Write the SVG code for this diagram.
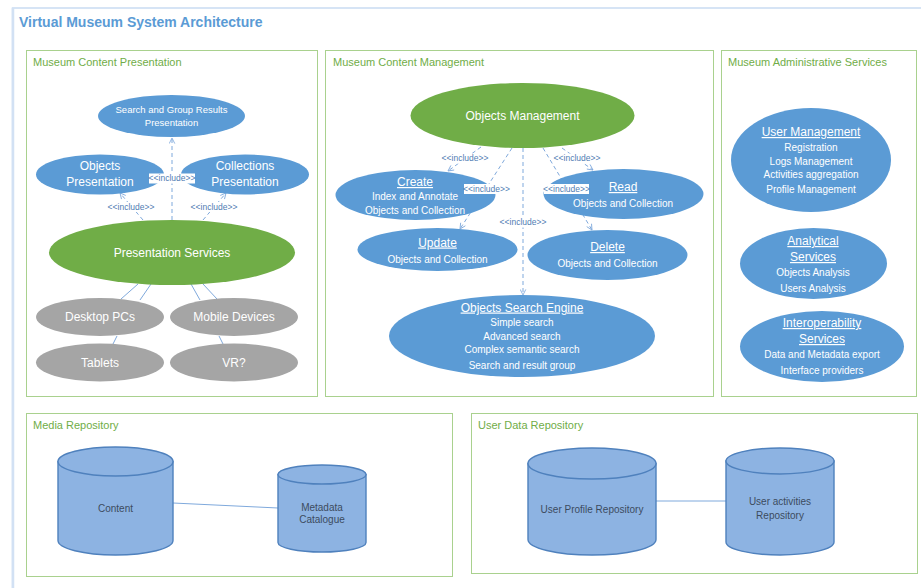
<svg xmlns="http://www.w3.org/2000/svg" width="921" height="588" viewBox="0 0 921 588">
  <style>
    text { font-family: "Liberation Sans", Arial, sans-serif; }
    .frame { fill: #ffffff; stroke: #c9dcf2; stroke-width: 1.5; }
    .frame-edge { stroke: #d2e1f4; stroke-width: 2.5; }
    .panel { fill: none; stroke: #a9d18e; stroke-width: 1; }
    .ptitle { font-size: 11px; fill: #70ad47; }
    .title { font-size: 14px; font-weight: bold; fill: #5b9bd5; }
    .blue { fill: #5b9bd5; }
    .green { fill: #70ad47; }
    .gray { fill: #a5a5a5; }
    .t12 { font-size: 12px; fill: #ffffff; text-anchor: middle; }
    .t10 { font-size: 10px; fill: #ffffff; text-anchor: middle; }
    .t9 { font-size: 9.5px; fill: #ffffff; text-anchor: middle; }
    .u { text-decoration: underline; }
    .inc { fill: none; stroke: #7fa9dc; stroke-width: 1; stroke-dasharray: 4 3; }
    .link { fill: none; stroke: #7fa9dc; stroke-width: 1; }
    .lblbg { fill: #ffffff; }
    .lbl { font-size: 8.5px; fill: #4f7db3; text-anchor: middle; }
    .db { fill: #8db3e2; stroke: #4f81bd; stroke-width: 1.4; }
    .dbt { font-size: 10px; fill: #3c4b5e; text-anchor: middle; }
  </style>
  <defs>
    <marker id="open" viewBox="0 0 10 10" refX="9" refY="5" markerWidth="7" markerHeight="7" orient="auto" markerUnits="userSpaceOnUse">
      <path d="M1,1 L9,5 L1,9" fill="none" stroke="#7fa9dc" stroke-width="1.2"/>
    </marker>
  </defs>

  <!-- outer frame and title -->
  <rect class="frame" x="12.5" y="8" width="920" height="600"/>
  <line class="frame-edge" x1="13" y1="8" x2="13" y2="588"/>
  <text class="title" x="19" y="27">Virtual Museum System Architecture</text>

  <!-- panels -->
  <g id="panels">
    <rect class="panel" x="26.5" y="50.5" width="291" height="346"/>
    <text class="ptitle" x="33" y="65.5">Museum Content Presentation</text>
    <rect class="panel" x="325.5" y="50.5" width="388" height="346"/>
    <text class="ptitle" x="333" y="65.5">Museum Content Management</text>
    <rect class="panel" x="721.5" y="50.5" width="195" height="346"/>
    <text class="ptitle" x="728" y="65.5">Museum Administrative Services</text>
    <rect class="panel" x="26.5" y="413.5" width="426" height="163"/>
    <text class="ptitle" x="33" y="429">Media Repository</text>
    <rect class="panel" x="471.5" y="413.5" width="446" height="160"/>
    <text class="ptitle" x="478" y="429">User Data Repository</text>
  </g>

  <!-- connectors -->
  <g id="connectors">
    <!-- presentation includes -->
    <line class="inc" x1="172" y1="220" x2="172" y2="138" marker-end="url(#open)"/>
    <line class="inc" x1="143" y1="220" x2="120" y2="193" marker-end="url(#open)"/>
    <line class="inc" x1="203" y1="220" x2="226" y2="193" marker-end="url(#open)"/>
    <!-- presentation devices -->
    <line class="link" x1="138" y1="284" x2="121" y2="299"/>
    <line class="link" x1="151" y1="284" x2="140" y2="300"/>
    <line class="link" x1="191" y1="284" x2="200" y2="300"/>
    <line class="link" x1="203" y1="284" x2="217" y2="299"/>
    <line class="link" x1="117" y1="336" x2="113" y2="344"/>
    <line class="link" x1="219" y1="336" x2="223" y2="344"/>
    <!-- management includes -->
    <line class="inc" x1="481" y1="147" x2="448" y2="171" marker-end="url(#open)"/>
    <line class="inc" x1="512" y1="148" x2="460" y2="229" marker-end="url(#open)"/>
    <line class="inc" x1="523" y1="148" x2="523" y2="295" marker-end="url(#open)"/>
    <line class="inc" x1="543" y1="148" x2="592" y2="230" marker-end="url(#open)"/>
    <line class="inc" x1="562" y1="148" x2="593" y2="170" marker-end="url(#open)"/>
    <!-- repository links -->
    <line class="link" x1="173" y1="503" x2="278" y2="508"/>
    <line class="link" x1="656" y1="501" x2="726" y2="501"/>
  </g>

  <!-- presentation nodes -->
  <g id="search-group-presentation">
    <ellipse class="blue" cx="171.5" cy="116" rx="73.5" ry="21"/>
    <text class="t9" x="171.5" y="112.5">Search and Group Results</text>
    <text class="t9" x="171.5" y="126">Presentation</text>
  </g>
  <g id="objects-presentation">
    <ellipse class="blue" cx="100" cy="174.5" rx="64" ry="20"/>
    <text class="t12" x="100" y="170">Objects</text>
    <text class="t12" x="100" y="186">Presentation</text>
  </g>
  <g id="collections-presentation">
    <ellipse class="blue" cx="245" cy="174.5" rx="64" ry="20"/>
    <text class="t12" x="245" y="170">Collections</text>
    <text class="t12" x="245" y="186">Presentation</text>
  </g>
  <g id="presentation-services">
    <ellipse class="green" cx="172" cy="252.5" rx="123" ry="32.5"/>
    <text class="t12" x="172" y="256.5">Presentation Services</text>
  </g>
  <g id="desktop-pcs">
    <ellipse class="gray" cx="100" cy="317" rx="64" ry="19"/>
    <text class="t12" x="100" y="321">Desktop PCs</text>
  </g>
  <g id="mobile-devices">
    <ellipse class="gray" cx="234" cy="317" rx="64" ry="19"/>
    <text class="t12" x="234" y="321">Mobile Devices</text>
  </g>
  <g id="tablets">
    <ellipse class="gray" cx="100" cy="362.5" rx="64" ry="19"/>
    <text class="t12" x="100" y="366.5">Tablets</text>
  </g>
  <g id="vr">
    <ellipse class="gray" cx="234" cy="362.5" rx="64" ry="19"/>
    <text class="t12" x="234" y="366.5">VR?</text>
  </g>

  <!-- management nodes -->
  <g id="objects-management">
    <ellipse class="green" cx="522.5" cy="115.5" rx="112" ry="32.5"/>
    <text class="t12" x="522.5" y="120">Objects Management</text>
  </g>
  <g id="create">
    <ellipse class="blue" cx="415.5" cy="195" rx="80" ry="25"/>
    <text class="t12 u" x="415" y="186">Create</text>
    <text class="t10" x="415" y="199.5">Index and Annotate</text>
    <text class="t10" x="415" y="213.5">Objects and Collection</text>
  </g>
  <g id="read">
    <ellipse class="blue" cx="623.5" cy="194" rx="80" ry="25"/>
    <text class="t12 u" x="623" y="191">Read</text>
    <text class="t10" x="623" y="207">Objects and Collection</text>
  </g>
  <g id="update">
    <ellipse class="blue" cx="437.5" cy="249.5" rx="80" ry="21.5"/>
    <text class="t12 u" x="437.5" y="246.5">Update</text>
    <text class="t10" x="437.5" y="262.5">Objects and Collection</text>
  </g>
  <g id="delete">
    <ellipse class="blue" cx="607.5" cy="255" rx="80" ry="25"/>
    <text class="t12 u" x="607.5" y="251">Delete</text>
    <text class="t10" x="607.5" y="267">Objects and Collection</text>
  </g>
  <g id="objects-search-engine">
    <ellipse class="blue" cx="522" cy="336" rx="133" ry="41"/>
    <text class="t12 u" x="522" y="311.5">Objects Search Engine</text>
    <text class="t10" x="522" y="326">Simple search</text>
    <text class="t10" x="522" y="340">Advanced search</text>
    <text class="t10" x="522" y="353">Complex semantic search</text>
    <text class="t10" x="522" y="368.5">Search and result group</text>
  </g>

  <!-- administrative nodes -->
  <g id="user-management">
    <ellipse class="blue" cx="811" cy="160" rx="80" ry="52"/>
    <text class="t12 u" x="811" y="136">User Management</text>
    <text class="t10" x="811" y="151">Registration</text>
    <text class="t10" x="811" y="164.5">Logs Management</text>
    <text class="t10" x="811" y="178">Activities aggregation</text>
    <text class="t10" x="811" y="193">Profile Management</text>
  </g>
  <g id="analytical-services">
    <ellipse class="blue" cx="813.5" cy="263.5" rx="73.5" ry="35.5"/>
    <text class="t12 u" x="813" y="245">Analytical</text>
    <text class="t12 u" x="813" y="261">Services</text>
    <text class="t10" x="813" y="275.5">Objects Analysis</text>
    <text class="t10" x="813" y="291.5">Users Analysis</text>
  </g>
  <g id="interoperability-services">
    <ellipse class="blue" cx="822" cy="346.5" rx="82" ry="35.5"/>
    <text class="t12 u" x="822" y="327">Interoperability</text>
    <text class="t12 u" x="822" y="343">Services</text>
    <text class="t10" x="822" y="358">Data and Metadata export</text>
    <text class="t10" x="822" y="374">Interface providers</text>
  </g>

  <!-- repositories -->
  <g id="content">
    <path class="db" d="M58,461.5 V540.5 A57.5,14.5 0 0 0 173,540.5 V461.5 Z"/>
    <ellipse class="db" cx="115.5" cy="461.5" rx="57.5" ry="14.5"/>
    <text class="dbt" x="115.5" y="512">Content</text>
  </g>
  <g id="metadata-catalogue">
    <path class="db" d="M278,474.5 V542.5 A44,9.5 0 0 0 366,542.5 V474.5 Z"/>
    <ellipse class="db" cx="322" cy="474.5" rx="44" ry="9.5"/>
    <text class="dbt" x="322" y="510.5">Metadata</text>
    <text class="dbt" x="322" y="523">Catalogue</text>
  </g>
  <g id="user-profile-repository">
    <path class="db" d="M528,463.5 V539.5 A64,15.5 0 0 0 656,539.5 V463.5 Z"/>
    <ellipse class="db" cx="592" cy="463.5" rx="64" ry="15.5"/>
    <text class="dbt" x="592" y="512.5">User Profile Repository</text>
  </g>
  <g id="user-activities-repository">
    <path class="db" d="M726,461 V542 A54,13 0 0 0 834,542 V461 Z"/>
    <ellipse class="db" cx="780" cy="461" rx="54" ry="13"/>
    <text class="dbt" x="780" y="504.5">User activities</text>
    <text class="dbt" x="780" y="518.5">Repository</text>
  </g>

  <!-- include labels, drawn above the nodes -->
  <g id="connector-labels">
    <rect class="lblbg" x="149" y="173.5" width="46" height="10"/>
    <text class="lbl" x="172" y="181">&lt;&lt;include&gt;&gt;</text>
    <rect class="lblbg" x="108" y="202" width="46" height="10"/>
    <text class="lbl" x="131" y="210">&lt;&lt;include&gt;&gt;</text>
    <rect class="lblbg" x="191" y="202" width="46" height="10"/>
    <text class="lbl" x="214" y="210">&lt;&lt;include&gt;&gt;</text>
    <rect class="lblbg" x="442" y="153.5" width="46" height="10"/>
    <text class="lbl" x="465" y="161">&lt;&lt;include&gt;&gt;</text>
    <rect class="lblbg" x="464" y="184" width="45" height="10"/>
    <text class="lbl" x="486.5" y="191.5">&lt;&lt;include&gt;&gt;</text>
    <rect class="lblbg" x="500" y="217.5" width="46" height="10"/>
    <text class="lbl" x="523" y="225">&lt;&lt;include&gt;&gt;</text>
    <rect class="lblbg" x="544" y="184" width="45" height="10"/>
    <text class="lbl" x="566.5" y="191.5">&lt;&lt;include&gt;&gt;</text>
    <rect class="lblbg" x="554" y="153.5" width="46" height="10"/>
    <text class="lbl" x="577" y="161">&lt;&lt;include&gt;&gt;</text>
  </g>
</svg>
